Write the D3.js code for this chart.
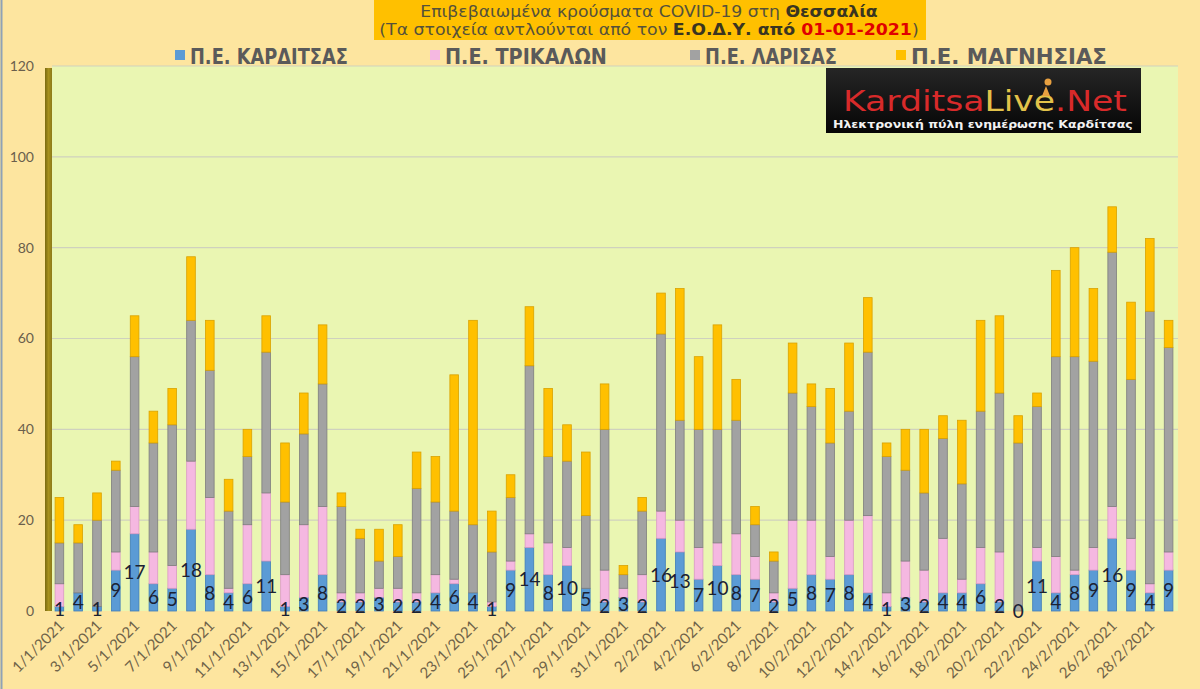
<!DOCTYPE html>
<html><head><meta charset="utf-8">
<script src="https://cdn.jsdelivr.net/npm/d3@7"></script>
<style>html,body{margin:0;padding:0;background:#FDE59F;}svg{display:block;}</style>
</head><body>
<svg id="c" width="1200" height="689"></svg>
<script>
const dates = ["1/1/2021","2/1/2021","3/1/2021","4/1/2021","5/1/2021","6/1/2021","7/1/2021","8/1/2021","9/1/2021","10/1/2021",
"11/1/2021","12/1/2021","13/1/2021","14/1/2021","15/1/2021","16/1/2021","17/1/2021","18/1/2021","19/1/2021","20/1/2021",
"21/1/2021","22/1/2021","23/1/2021","24/1/2021","25/1/2021","26/1/2021","27/1/2021","28/1/2021","29/1/2021","30/1/2021",
"31/1/2021","1/2/2021","2/2/2021","3/2/2021","4/2/2021","5/2/2021","6/2/2021","7/2/2021","8/2/2021","9/2/2021",
"10/2/2021","11/2/2021","12/2/2021","13/2/2021","14/2/2021","15/2/2021","16/2/2021","17/2/2021","18/2/2021","19/2/2021",
"20/2/2021","21/2/2021","22/2/2021","23/2/2021","24/2/2021","25/2/2021","26/2/2021","27/2/2021","28/2/2021","1/3/2021"];
const karditsa = [1,4,1,9,17,6,5,18,8,4, 6,11,1,3,8,2,2,3,2,2, 4,6,4,1,9,14,8,10,5,2, 3,2,16,13,7,10,8,7,2,5, 8,7,8,4,1,3,2,4,4,6, 2,0,11,4,8,9,16,9,4,9];
const trikala  = [5,0,0,4,6,7,5,15,17,1, 13,15,7,16,15,2,2,2,3,2, 4,1,0,1,2,3,7,4,0,7, 2,6,6,7,7,5,9,5,2,15, 12,5,12,17,3,8,7,12,3,8, 11,0,3,8,1,5,7,7,2,4];
const larisa   = [9,11,19,18,33,24,31,31,28,17, 15,31,16,20,27,19,12,6,7,23, 16,15,15,11,14,37,19,19,16,31, 3,14,39,22,26,25,25,7,7,28, 25,25,24,36,30,20,17,22,21,30, 35,37,31,44,47,41,56,35,60,45];
const magnisia = [10,4,6,2,9,7,8,14,11,7, 6,8,13,9,13,3,2,7,7,8, 10,30,45,9,5,13,15,8,14,10, 2,3,9,29,16,23,9,4,2,11, 5,12,15,12,3,9,14,5,14,20, 17,6,3,19,24,16,10,17,16,6];
const seriesNames = ["Π.Ε. ΚΑΡΔΙΤΣΑΣ","Π.Ε. ΤΡΙΚΑΛΩΝ","Π.Ε. ΛΑΡΙΣΑΣ","Π.Ε. ΜΑΓΝΗΣΙΑΣ"];
const yTicks = [0,20,40,60,80,100,120];

const colors = ["#5B9BD5","#F5B8E1","#A2A2A2","#FFC000"];
const edges  = ["#3F7DB8","#D99AC4","#7E7E7E","#D9A200"];

const svg = d3.select("#c");
const W=1200,H=689;
const plot = {l:50,r:1178,t:66,b:611};

svg.append("line").attr("x1",1.5).attr("x2",1.5).attr("y1",0).attr("y2",H).attr("stroke","#8FA2B6").attr("stroke-width",2);

svg.append("rect").attr("x",52).attr("y",plot.t).attr("width",plot.r-52).attr("height",plot.b-plot.t).attr("fill","#EAF6B2");

const rows = dates.map((d,i)=>({date:d,k:karditsa[i],t:trikala[i],l:larisa[i],m:magnisia[i]}));
const stack = d3.stack().keys(["k","t","l","m"])(rows);

const x = d3.scaleBand().domain(dates).range([plot.l,plot.r]).paddingInner(0.54).paddingOuter(0.27);
const y = d3.scaleLinear().domain([0,120]).range([plot.b,plot.t]);

svg.append("g").selectAll("line").data(yTicks.slice(1)).join("line")
  .attr("x1",52).attr("x2",plot.r).attr("y1",d=>y(d)).attr("y2",d=>y(d))
  .attr("stroke","#CFD1BE").attr("stroke-width",1.2);

const defs = svg.append("defs");
const wg = defs.append("linearGradient").attr("id","wall").attr("x1","0").attr("x2","1");
wg.append("stop").attr("offset","0").attr("stop-color","#7A6A12");
wg.append("stop").attr("offset","0.5").attr("stop-color","#A8921F");
wg.append("stop").attr("offset","1").attr("stop-color","#8C7A18");
svg.append("rect").attr("x",45).attr("y",plot.t+2).attr("width",7).attr("height",plot.b-plot.t-2).attr("fill","url(#wall)");

const bw = x.bandwidth();
const g = svg.append("g");
stack.forEach((s,si)=>{
  g.append("g").selectAll("rect").data(s).join("rect")
    .attr("x",d=>x(d.data.date)).attr("width",bw)
    .attr("y",d=>y(d[1])).attr("height",d=>Math.max(0,y(d[0])-y(d[1])))
    .attr("fill",colors[si]).attr("stroke",edges[si]).attr("stroke-width",0.8);
});

svg.append("g").selectAll("text").data(yTicks).join("text")
  .attr("x",34).attr("y",d=>y(d)).attr("dy","0.35em").attr("text-anchor","end")
  .attr("font-family","Lato, 'Open Sans', sans-serif").attr("font-size",14).attr("fill","#6A5F4C")
  .text(d=>d);

svg.append("g").selectAll("text").data(dates.filter((d,i)=>i%2===0)).join("text")
  .attr("transform",d=>`translate(${x(d)+bw/2+2},${plot.b+12}) rotate(-45)`)
  .attr("text-anchor","end").attr("dy","0.35em")
  .attr("font-family","Lato, 'Open Sans', sans-serif").attr("font-size",15).attr("fill","#6E6248")
  .text(d=>d);

svg.append("g").selectAll("text").data(stack[0]).join("text")
  .attr("x",d=>x(d.data.date)+bw/2).attr("y",d=>(y(d[0])+y(d[1]))/2).attr("dy","0.36em")
  .attr("text-anchor","middle").attr("font-family","Lato, 'Open Sans', sans-serif").attr("font-size",19)
  .attr("fill","#1B2233").text(d=>d.data.k);

svg.append("rect").attr("x",374).attr("y",0).attr("width",552).attr("height",40).attr("fill","#FFC000");
const tf = "'Liberation Sans Narrow','DejaVu Sans Condensed','Liberation Sans',sans-serif";
function fitText(sel, cx, targetW){
  const w = sel.node().getComputedTextLength();
  const sx = targetW/w;
  sel.attr("transform",`translate(${cx},0) scale(${sx},1) translate(${-cx},0)`);
}
const t1 = svg.append("text").attr("x",649).attr("y",17).attr("text-anchor","middle")
  .attr("font-family",tf).attr("font-size",16).attr("fill","#55513A");
t1.append("tspan").text("Επιβεβαιωμένα κρούσματα COVID-19 στη ");
t1.append("tspan").attr("font-weight","bold").attr("fill","#3A3520").text("Θεσσαλία");
fitText(t1,649,458);
const t2 = svg.append("text").attr("x",649).attr("y",35).attr("text-anchor","middle")
  .attr("font-family",tf).attr("font-size",16).attr("fill","#55513A");
t2.append("tspan").text("(Τα στοιχεία αντλούνται από τον ");
t2.append("tspan").attr("font-weight","bold").attr("fill","#3A3520").text("Ε.Ο.Δ.Υ. από ");
t2.append("tspan").attr("font-weight","bold").attr("fill","#E00000").text("01-01-2021");
t2.append("tspan").text(")");
fitText(t2,649,540);

const legX = [175,430,690,896];
const legW = [158,162,132,196];
seriesNames.forEach((n,i)=>{
  svg.append("rect").attr("x",legX[i]).attr("y",50).attr("width",10).attr("height",10).attr("fill",colors[i]);
  const tx = svg.append("text").attr("x",legX[i]+15).attr("y",64).attr("font-family",tf)
    .attr("font-weight","bold").attr("font-size",22).attr("fill","#5A5A5A").text(n);
  const w = tx.node().getComputedTextLength();
  const s = legW[i]/w, x0 = legX[i]+15;
  tx.attr("transform",`translate(${x0},0) scale(${s},1) translate(${-x0},0)`);
});

const lg = defs.append("linearGradient").attr("id","logo").attr("x1","0").attr("x2","0").attr("y1","0").attr("y2","1");
lg.append("stop").attr("offset","0").attr("stop-color","#262626");
lg.append("stop").attr("offset","1").attr("stop-color","#050505");
svg.append("rect").attr("x",826).attr("y",68).attr("width",315).attr("height",65).attr("fill","url(#logo)");
const lt = svg.append("text").attr("x",843).attr("y",111).attr("font-family","'DejaVu Sans','Liberation Sans',sans-serif")
  .attr("font-size",29);
lt.append("tspan").attr("fill","#D82A2A").text("Karditsa");
lt.append("tspan").attr("fill","#E2C24A").text("Live");
lt.append("tspan").attr("fill","#D82A2A").text(".Net");
{ const w = lt.node().getComputedTextLength(); const s=284/w;
  lt.attr("transform",`translate(843,0) scale(${s},1) translate(-843,0)`); }
svg.append("circle").attr("cx",1048).attr("cy",82).attr("r",3.5).attr("fill","#E8A040");
svg.append("path").attr("d","M1046,86 L1042,96 L1050,96 Z").attr("fill","#E8A040");
const ls = svg.append("text").attr("x",833).attr("y",128).attr("font-family","'DejaVu Sans','Liberation Sans',sans-serif")
  .attr("font-weight","bold").attr("font-size",11).attr("fill","#F2F2F2").text("Ηλεκτρονική πύλη ενημέρωσης Καρδίτσας");
{ const w = ls.node().getComputedTextLength(); const s=300/w;
  ls.attr("transform",`translate(833,0) scale(${s},1) translate(-833,0)`); }
</script>
</body></html>
